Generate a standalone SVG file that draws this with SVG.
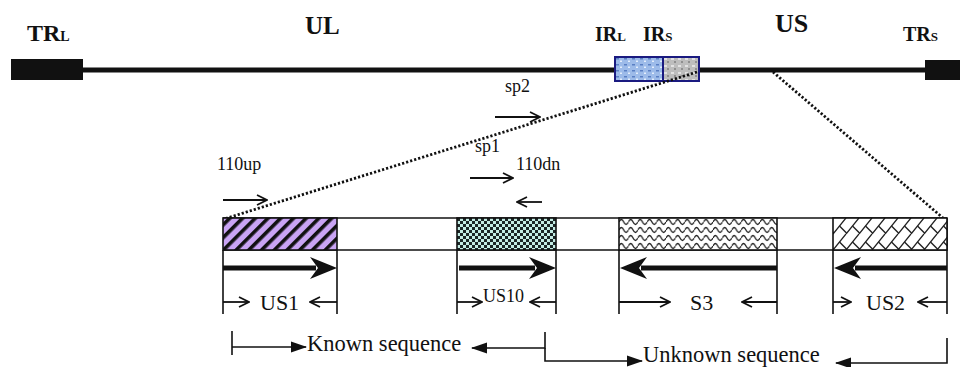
<svg xmlns="http://www.w3.org/2000/svg" width="960" height="367" viewBox="0 0 960 367">
<defs>
<style>
text{font-family:'Liberation Serif','DejaVu Serif','Times New Roman',serif;fill:#111}
.b{font-weight:bold}
.ln{stroke:#111;stroke-width:1.6;fill:none}
.thin{stroke:#111;stroke-width:1.8;fill:none}
.dot{stroke:#111;stroke-width:2.8;stroke-dasharray:2.2 2;fill:none}
</style>
<marker id="vopen" viewBox="0 0 12 12" refX="11" refY="6" markerWidth="12" markerHeight="12" markerUnits="userSpaceOnUse" orient="auto">
<path d="M1,1 L11,6 L1,11" fill="none" stroke="#111" stroke-width="1.8"/>
</marker>
<marker id="tri" viewBox="0 0 16 12" refX="15" refY="6" markerWidth="16" markerHeight="12" markerUnits="userSpaceOnUse" orient="auto">
<path d="M0,0.5 L16,6 L0,11.5 Z" fill="#111"/>
</marker>
<pattern id="hatch" width="9" height="9" patternUnits="userSpaceOnUse" patternTransform="rotate(45)">
<rect width="9" height="9" fill="#c9a4f4"/>
<rect width="3.6" height="9" fill="#111"/>
</pattern>
<pattern id="check" width="6" height="6" patternUnits="userSpaceOnUse" x="457" y="218">
<rect width="6" height="6" fill="#c4ece4"/>
<rect width="3" height="3" fill="#1b2626"/>
<rect x="3" y="3" width="3" height="3" fill="#1b2626"/>
</pattern>
<pattern id="wave" width="9.4" height="8" patternUnits="userSpaceOnUse" x="619" y="218">
<rect width="9.4" height="8" fill="#fff"/>
<path d="M0,4 Q2.35,-1 4.7,4 T9.4,4" fill="none" stroke="#222" stroke-width="1.3"/>
</pattern>
<pattern id="brick" width="13" height="16" patternUnits="userSpaceOnUse" x="833" y="218">
<rect width="13" height="16" fill="#fff"/>
<g stroke="#222" stroke-width="1.4" fill="none">
<path d="M0,16 L13,0 M-13,16 L0,0 M13,16 L26,0"/>
<path d="M6.5,8 L13.7,15.2 M-6.5,8 L0.7,15.2 M6.5,-8 L13.7,-0.8 M-6.5,-8 L0.7,-0.8"/>
</g>
</pattern>
<pattern id="irl" width="8" height="6" patternUnits="userSpaceOnUse" x="615" y="57">
<rect width="8" height="6" fill="#9dbbe9"/>
<rect x="1" y="1" width="3" height="1.5" fill="#5a7fc4"/>
<rect x="5" y="3.5" width="2" height="1.5" fill="#e4eefc"/>
</pattern>
<pattern id="irs" width="7" height="7" patternUnits="userSpaceOnUse" x="663" y="57">
<rect width="7" height="7" fill="#bdbdbd"/>
<rect x="1" y="1" width="3" height="2" fill="#e2e2e2"/>
<rect x="4" y="4" width="2" height="2" fill="#8f8f8f"/>
</pattern>
</defs>
<rect width="960" height="367" fill="#fff"/>

<g id="genome">
<line x1="80" y1="70" x2="928" y2="70" stroke="#111" stroke-width="5"/>
<rect x="11" y="59" width="72" height="21" fill="#111"/>
<rect x="925" y="60" width="35" height="20" fill="#111"/>
<g id="ir">
<rect x="615" y="57" width="48" height="24" fill="url(#irl)" stroke="#1a1a80" stroke-width="2"/>
<rect x="663" y="57" width="36" height="24" fill="url(#irs)" stroke="#1a1a80" stroke-width="2"/>
</g>
</g>

<g id="genome-labels">
<text class="b" x="27" y="41" font-size="24">TR<tspan font-size="14">L</tspan></text>
<text class="b" x="305" y="34" font-size="25">UL</text>
<text class="b" x="595" y="41" font-size="20">IR<tspan font-size="13">L</tspan></text>
<text class="b" x="643" y="41" font-size="20">IR<tspan font-size="13">S</tspan></text>
<text class="b" x="775" y="32" font-size="26">US</text>
<text class="b" x="903" y="41" font-size="20">TR<tspan font-size="13">S</tspan></text>
</g>

<g id="connectors">
<line class="dot" x1="697" y1="72" x2="224" y2="219"/>
<line class="dot" x1="773" y1="72" x2="943" y2="218"/>
</g>

<g id="band">
<line class="ln" x1="223" y1="218" x2="947" y2="218"/>
<line class="ln" x1="223" y1="250" x2="947" y2="250"/>
<line class="ln" x1="947" y1="218" x2="947" y2="250"/>
</g>

<g id="us1">
<rect x="223" y="218" width="114" height="32" fill="url(#hatch)" stroke="#111" stroke-width="1.6"/>
<line class="ln" x1="223" y1="250" x2="223" y2="314"/>
<line class="ln" x1="337" y1="250" x2="337" y2="314"/>
<path d="M223,265.5 L316,265.5 L316,270.5 L223,270.5 Z M337,268 L310,257 L318,268 L310,279 Z" fill="#111"/>
<line class="thin" x1="223" y1="302" x2="249" y2="302" marker-end="url(#vopen)"/>
<line class="thin" x1="337" y1="302" x2="310" y2="302" marker-end="url(#vopen)"/>
<text x="260" y="310" font-size="22">US1</text>
</g>

<g id="us10">
<rect x="457" y="218" width="99" height="32" fill="url(#check)" stroke="#111" stroke-width="1.6"/>
<line class="ln" x1="457" y1="250" x2="457" y2="314"/>
<line class="ln" x1="556" y1="250" x2="556" y2="314"/>
<path d="M459,265.5 L535,265.5 L535,270.5 L459,270.5 Z M556,268 L529,257 L537,268 L529,279 Z" fill="#111"/>
<line class="thin" x1="457" y1="302" x2="482" y2="302" marker-end="url(#vopen)"/>
<line class="thin" x1="556" y1="302" x2="530" y2="302" marker-end="url(#vopen)"/>
<text x="483" y="302" font-size="18">US10</text>
</g>

<g id="s3">
<rect x="619" y="218" width="158" height="32" fill="url(#wave)" stroke="#111" stroke-width="1.6"/>
<line class="ln" x1="619" y1="250" x2="619" y2="314"/>
<line class="ln" x1="777" y1="250" x2="777" y2="314"/>
<path d="M777,265.5 L641,265.5 L641,270.5 L777,270.5 Z M620,268 L647,257 L639,268 L647,279 Z" fill="#111"/>
<line class="thin" x1="619" y1="302" x2="670" y2="302" marker-end="url(#vopen)"/>
<line class="thin" x1="777" y1="302" x2="742" y2="302" marker-end="url(#vopen)"/>
<text x="690" y="310" font-size="22">S3</text>
</g>

<g id="us2">
<rect x="833" y="218" width="114" height="32" fill="url(#brick)" stroke="#111" stroke-width="1.6"/>
<line class="ln" x1="833" y1="250" x2="833" y2="314"/>
<line class="ln" x1="947" y1="250" x2="947" y2="314"/>
<path d="M947,265.5 L855,265.5 L855,270.5 L947,270.5 Z M834,268 L861,257 L853,268 L861,279 Z" fill="#111"/>
<line class="thin" x1="833" y1="302" x2="851" y2="302" marker-end="url(#vopen)"/>
<line class="thin" x1="947" y1="302" x2="918" y2="302" marker-end="url(#vopen)"/>
<text x="866" y="310" font-size="22">US2</text>
</g>

<g id="primers">
<text x="505" y="92" font-size="18">sp2</text>
<line class="thin" x1="495" y1="117" x2="540" y2="117" marker-end="url(#vopen)"/>
<text x="475" y="152" font-size="18">sp1</text>
<line class="thin" x1="470" y1="178" x2="513" y2="178" marker-end="url(#vopen)"/>
<text x="516" y="170" font-size="18">110dn</text>
<line class="thin" x1="542" y1="202" x2="517" y2="202" marker-end="url(#vopen)"/>
<text x="217" y="170" font-size="18">110up</text>
<line class="thin" x1="223" y1="200" x2="267" y2="200" marker-end="url(#vopen)"/>
</g>

<g id="known">
<line class="ln" x1="232" y1="331" x2="232" y2="355"/>
<line class="ln" x1="232" y1="347" x2="306" y2="347" marker-end="url(#tri)"/>
<text x="307" y="351" font-size="22.5">Known sequence</text>
<polyline class="ln" points="545,332 545,348 472,348" marker-end="url(#tri)"/>
</g>

<g id="unknown">
<polyline class="ln" points="545,348 545,361 642,361" marker-end="url(#tri)"/>
<text x="643" y="362" font-size="22.5">Unknown sequence</text>
<polyline class="ln" points="947,338 947,363 836,363" marker-end="url(#tri)"/>
</g>
</svg>
